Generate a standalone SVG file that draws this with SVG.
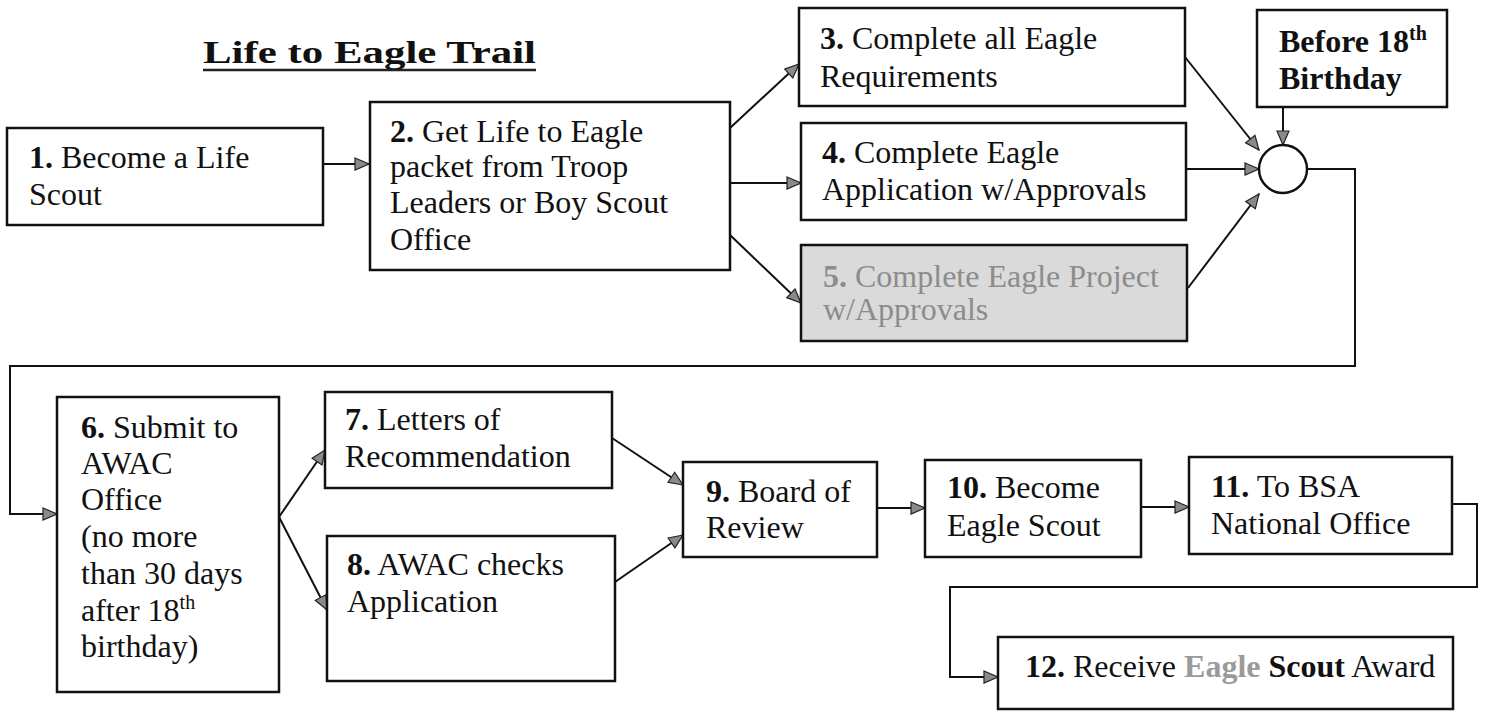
<svg xmlns="http://www.w3.org/2000/svg" width="1489" height="711" viewBox="0 0 1489 711">
<style>
  .box { fill: #ffffff; stroke: #111; stroke-width: 2.5; }
  .grey { fill: #dadada; stroke: #111; stroke-width: 2.5; }
  .t { font-family: "Liberation Serif", "Times New Roman", serif; font-size: 32px; fill: #111; }
  .b { font-weight: bold; }
  .g { fill: #8c8c8c; }
  .sup { font-size: 20px; }
  .ln { fill: none; stroke: #111; stroke-width: 2; }
</style>
<defs>
  <marker id="ah" markerUnits="userSpaceOnUse" markerWidth="16" markerHeight="14" viewBox="0 0 16 14" refX="15" refY="7" orient="auto">
    <path d="M1,1 L15,7 L1,13 Z" fill="#8a8a8a" stroke="#222" stroke-width="1.2"/>
  </marker>
</defs>
<rect width="1489" height="711" fill="#ffffff"/>

<g id="title">
  <text class="t b" x="203" y="63" font-size="41" textLength="333" lengthAdjust="spacingAndGlyphs" fill="#222">Life to Eagle Trail</text>
  <line x1="203" y1="70" x2="536" y2="70" stroke="#222" stroke-width="2.5"/>
</g>

<g id="connectors">
  <line class="ln" x1="323" y1="164" x2="369" y2="164" marker-end="url(#ah)"/>
  <line class="ln" x1="730" y1="128" x2="799" y2="64" marker-end="url(#ah)"/>
  <line class="ln" x1="730" y1="183" x2="801" y2="183" marker-end="url(#ah)"/>
  <line class="ln" x1="730" y1="235" x2="801" y2="303" marker-end="url(#ah)"/>
  <line class="ln" x1="1185" y1="57" x2="1259" y2="150" marker-end="url(#ah)"/>
  <line class="ln" x1="1186" y1="169" x2="1259" y2="169" marker-end="url(#ah)"/>
  <line class="ln" x1="1188" y1="288" x2="1259" y2="194" marker-end="url(#ah)"/>
  <line class="ln" x1="1283" y1="107" x2="1283" y2="145" marker-end="url(#ah)"/>
  <polyline class="ln" points="1307,169 1355,169 1355,366 10,366 10,514 57,514" marker-end="url(#ah)"/>
  <line class="ln" x1="279" y1="517" x2="325" y2="450" marker-end="url(#ah)"/>
  <line class="ln" x1="279" y1="517" x2="327" y2="610" marker-end="url(#ah)"/>
  <line class="ln" x1="612" y1="438" x2="683" y2="485" marker-end="url(#ah)"/>
  <line class="ln" x1="615" y1="582" x2="683" y2="535" marker-end="url(#ah)"/>
  <line class="ln" x1="877" y1="508" x2="925" y2="508" marker-end="url(#ah)"/>
  <line class="ln" x1="1141" y1="507" x2="1189" y2="507" marker-end="url(#ah)"/>
  <polyline class="ln" points="1452,504 1477,504 1477,587 950,587 950,677 998,677" marker-end="url(#ah)"/>
</g>

<g id="node1">
  <rect class="box" x="7" y="128" width="316" height="97"/>
  <text class="t" x="29" y="168"><tspan class="b">1.</tspan> Become a Life</text>
  <text class="t" x="29" y="205">Scout</text>
</g>

<g id="node2">
  <rect class="box" x="370" y="102" width="360" height="168"/>
  <text class="t" x="390" y="142"><tspan class="b">2.</tspan> Get Life to Eagle</text>
  <text class="t" x="390" y="177">packet from Troop</text>
  <text class="t" x="390" y="213">Leaders or Boy Scout</text>
  <text class="t" x="390" y="250">Office</text>
</g>

<g id="node3">
  <rect class="box" x="799" y="8" width="386" height="98"/>
  <text class="t" x="820" y="49"><tspan class="b">3.</tspan> Complete all Eagle</text>
  <text class="t" x="820" y="87">Requirements</text>
</g>

<g id="node4">
  <rect class="box" x="801" y="123" width="385" height="97"/>
  <text class="t" x="822" y="163"><tspan class="b">4.</tspan> Complete Eagle</text>
  <text class="t" x="822" y="200">Application w/Approvals</text>
</g>

<g id="node5">
  <rect class="grey" x="801" y="245" width="386" height="96"/>
  <text class="t g" x="823" y="287"><tspan class="b">5.</tspan> Complete Eagle Project</text>
  <text class="t g" x="823" y="320">w/Approvals</text>
</g>

<g id="before18">
  <rect class="box" x="1257" y="10" width="190" height="97"/>
  <text class="t b" x="1279" y="52" font-size="30">Before 18<tspan class="sup" dy="-12">th</tspan></text>
  <text class="t b" x="1279" y="89" font-size="30">Birthday</text>
</g>

<g id="junction">
  <circle cx="1283" cy="169" r="24" fill="#ffffff" stroke="#111" stroke-width="2.5"/>
</g>

<g id="node6">
  <rect class="box" x="57" y="397" width="222" height="295"/>
  <text class="t" x="81" y="438"><tspan class="b">6.</tspan> Submit to</text>
  <text class="t" x="81" y="474">AWAC</text>
  <text class="t" x="81" y="510">Office</text>
  <text class="t" x="81" y="547">(no more</text>
  <text class="t" x="81" y="584">than 30 days</text>
  <text class="t" x="81" y="621">after 18<tspan class="sup" dy="-12">th</tspan></text>
  <text class="t" x="81" y="657">birthday)</text>
</g>

<g id="node7">
  <rect class="box" x="325" y="392" width="287" height="96"/>
  <text class="t" x="345" y="430"><tspan class="b">7.</tspan> Letters of</text>
  <text class="t" x="345" y="467">Recommendation</text>
</g>

<g id="node8">
  <rect class="box" x="327" y="536" width="288" height="145"/>
  <text class="t" x="347" y="575"><tspan class="b">8.</tspan> AWAC checks</text>
  <text class="t" x="347" y="612">Application</text>
</g>

<g id="node9">
  <rect class="box" x="683" y="462" width="194" height="95"/>
  <text class="t" x="706" y="502"><tspan class="b">9.</tspan> Board of</text>
  <text class="t" x="706" y="538">Review</text>
</g>

<g id="node10">
  <rect class="box" x="925" y="460" width="216" height="97"/>
  <text class="t" x="947" y="498"><tspan class="b">10.</tspan> Become</text>
  <text class="t" x="947" y="536">Eagle Scout</text>
</g>

<g id="node11">
  <rect class="box" x="1189" y="457" width="263" height="97"/>
  <text class="t" x="1211" y="497"><tspan class="b">11.</tspan> To BSA</text>
  <text class="t" x="1211" y="534">National Office</text>
</g>

<g id="node12">
  <rect class="box" x="998" y="637" width="455" height="72"/>
  <text class="t" x="1025" y="677" font-size="31"><tspan class="b">12.</tspan> Receive <tspan class="b" fill="#9a9a9a">Eagle</tspan> <tspan class="b">Scout</tspan> Award</text>
</g>
</svg>
